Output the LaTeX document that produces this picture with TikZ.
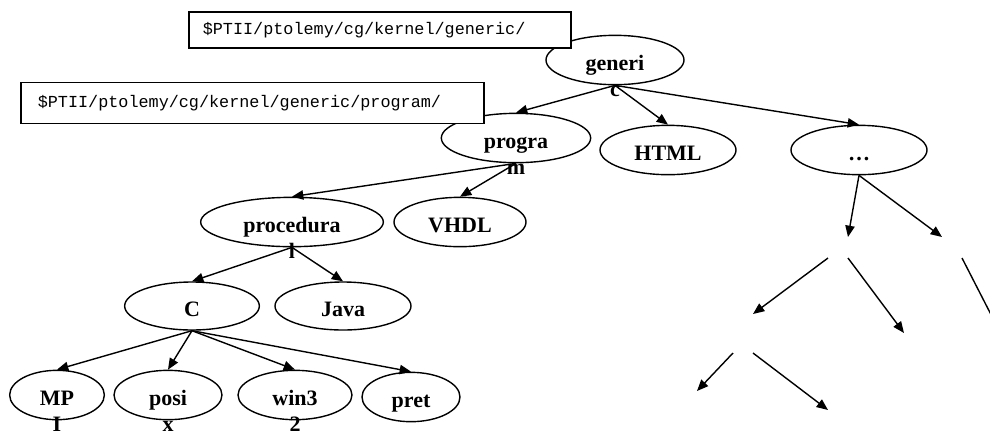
\documentclass[tikz,border=0pt]{standalone}
\usepackage{fontspec}
\setmainfont{Liberation Serif}
\setmonofont{Liberation Mono}
\usetikzlibrary{shapes.geometric,arrows.meta}

\begin{document}
\begin{tikzpicture}[x=0.75pt,y=-0.75pt,line width=1.05pt,
  dir/.style={draw,ellipse,minimum height=37pt,inner sep=0pt,
    font=\fontsize{16.5}{20}\selectfont\bfseries,text height=15pt,text depth=0pt},
  tail/.style={anchor=base,inner sep=0pt,font=\fontsize{16.5}{20}\selectfont\bfseries},
  pathbox/.style={draw,fill=white,anchor=west,align=left,line width=1.2pt,
    font=\ttfamily\fontsize{12.6}{15}\selectfont},
  sub/.style={-{Triangle[length=8.5pt,width=7pt]}}]
\useasboundingbox (0,0) rectangle (990,430);
% directory tree
\node[dir,minimum width=103.5pt] (generic) at (615,60) {generi};
\node[tail] (generic-c) at ([yshift=-20pt]generic.base) {c};
\node[dir,minimum width=112pt] (program) at (516,138) {progra};
\node[tail] (program-m) at ([yshift=-20pt]program.base) {m};
\node[dir,minimum width=102pt] (html) at (668,150) {HTML};
\node[dir,minimum width=102pt] (more) at (859,150) {\dots};
\node[dir,minimum width=137pt] (proc) at (292,222) {procedura};
\node[tail] (proc-l) at ([yshift=-20pt]proc.base) {l};
\node[dir,minimum width=99pt] (vhdl) at (460,222) {VHDL};
\node[dir,minimum width=101pt,minimum height=36pt] (c) at (192,306) {C};
\node[dir,minimum width=102pt,minimum height=36pt] (java) at (343,306) {Java};
\node[dir,minimum width=71pt] (mp) at (57,395) {MP};
\node[tail] (mp-l) at ([yshift=-20pt]mp.base) {I};
\node[dir,minimum width=81pt] (posix) at (168,395) {posi};
\node[tail] (posix-x) at ([yshift=-20pt]posix.base) {x};
\node[dir,minimum width=85.5pt] (win) at (295,395) {win3};
\node[tail] (win-2) at ([yshift=-20pt]win.base) {2};
\node[dir,minimum width=73.5pt] (pret) at (411,397) {pret};

\draw[sub] (generic.south) -- (program.north);
\draw[sub] (generic.south) -- (html.north);
\draw[sub] (generic.south) -- (more.north);
\draw[sub] (program.south) -- (proc.north);
\draw[sub] (program.south) -- (vhdl.north);
\draw[sub] (proc.south) -- (c.north);
\draw[sub] (proc.south) -- (java.north);
\draw[sub] (c.south) -- (mp.north);
\draw[sub] (c.south) -- (posix.north);
\draw[sub] (c.south) -- (win.north);
\draw[sub] (c.south) -- (pret.north);

% unnamed subdirectories below ...
\coordinate (m1) at (848,237);
\coordinate (m2) at (942,237);
\coordinate (m1a) at (828,258);
\coordinate (m1b) at (848,258);
\coordinate (m2a) at (962,258);
\coordinate (m11) at (753,314);
\coordinate (m12) at (904,333);
\coordinate (m21) at (1003,338);
\coordinate (m11a) at (733,353);
\coordinate (m11b) at (753,353);
\coordinate (m111) at (697,391);
\coordinate (m112) at (828,410);
\draw[sub] (more.south) -- (m1);
\draw[sub] (more.south) -- (m2);
\draw[sub] (m1a) -- (m11);
\draw[sub] (m1b) -- (m12);
\draw[sub] (m2a) -- (m21);
\draw[sub] (m11a) -- (m111);
\draw[sub] (m11b) -- (m112);

% path callouts
\node[pathbox,text width=265.5pt,inner xsep=10.5pt,minimum height=27pt] (genpath) at (188,30)
  {\$PTII/ptolemy/cg/kernel/generic/};
\node[pathbox,text width=321.75pt,inner xsep=12.75pt,minimum height=31pt] (progpath) at (20,103)
  {\$PTII/ptolemy/cg/kernel/generic/program/};
\end{tikzpicture}
\end{document}
